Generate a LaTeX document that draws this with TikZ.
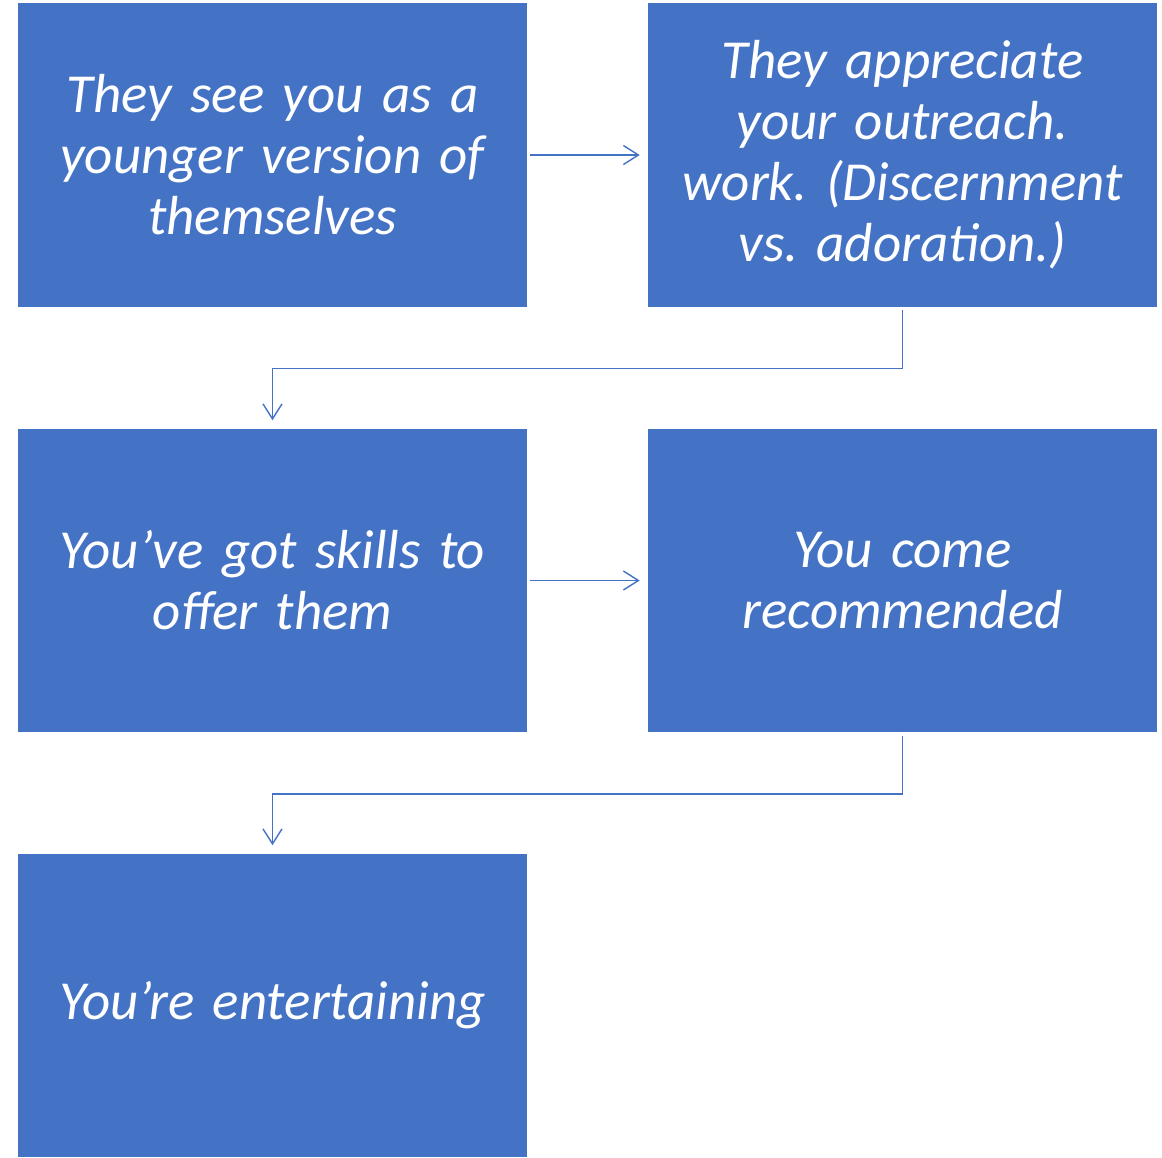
\documentclass[tikz,border=0pt]{standalone}
\usepackage{fontspec}
\setmainfont{Carlito}
\usetikzlibrary{arrows.meta}

\definecolor{boxblue}{HTML}{4472C4}
\frenchspacing

\begin{document}
\begin{tikzpicture}[x=0.02cm, y=-0.02cm,
    card/.style={fill=boxblue, draw=none, minimum width=10.18cm, minimum height=6.08cm,
      text width=10cm, align=center, text=white, inner sep=0pt,
      font=\fontsize{31.3}{34.7}\selectfont\itshape},
    flow/.style={draw=boxblue, line width=0.8pt,
      -{Straight Barb[length=0.3cm, width=0.38cm, line width=0.8pt]},
      shorten <=0.06cm, shorten >=0.16cm}]
  \useasboundingbox (0,0) rectangle (1162,1157);
  \node[card] (see) at (272.5,155) {They see you as a\\ younger version of\\ themselves};
  \node[card] (appreciate) at (902.5,155) {They appreciate\\ your outreach.\\ work. (Discernment\\ vs. adoration.)};
  \node[card] (skills) at (272.5,580.5) {You’ve got skills to\\ offer them};
  \node[card] (recommended) at (902.5,580.5) {You come\\ recommended};
  \node[card] (entertaining) at (272.5,1005.5) {You’re entertaining};
  \draw[flow] (see.east) -- (appreciate.west);
  \draw[flow] (appreciate.south) -- ++(0,61) -| (skills.north);
  \draw[flow] (skills.east) -- (recommended.west);
  \draw[flow] (recommended.south) -- ++(0,61) -| (entertaining.north);
\end{tikzpicture}
\end{document}
